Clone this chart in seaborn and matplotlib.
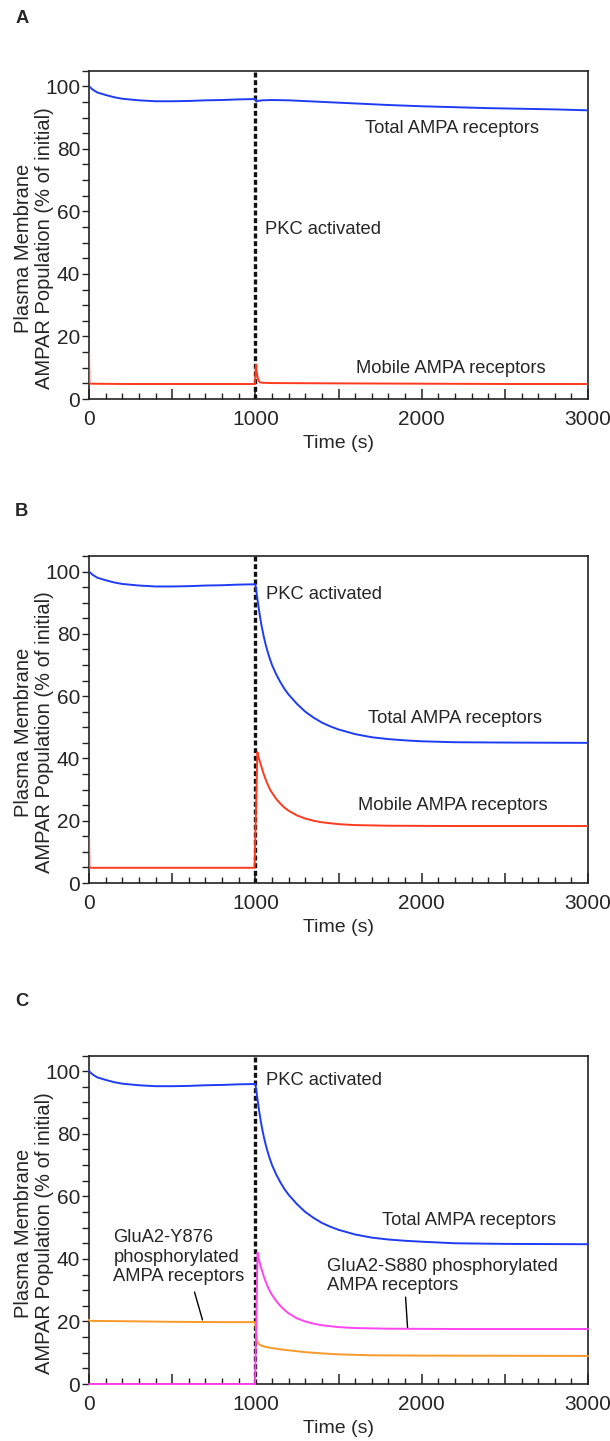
import numpy as np
import pandas as pd
import matplotlib
matplotlib.use("Agg")
import matplotlib.pyplot as plt
import seaborn as sns
from matplotlib.ticker import MultipleLocator, FuncFormatter

# ---------------- data ----------------
# Panel A
a_total_t = [0, 20, 50, 100, 150, 200, 300, 400, 500, 600, 700, 800, 900, 1000,
             1005, 1015, 1040, 1100, 1200, 1400, 1600, 1800, 2000, 2200, 2400, 2600, 2800, 3000]
a_total_v = [100, 99.0, 98.0, 97.2, 96.5, 96.0, 95.5, 95.2, 95.2, 95.3, 95.5, 95.6, 95.8, 95.9,
             95.1, 95.3, 95.5, 95.6, 95.5, 95.0, 94.5, 94.0, 93.6, 93.3, 93.0, 92.8, 92.6, 92.3]
a_mobile_t = [0, 2, 200, 500, 800, 998, 1003, 1008, 1014, 1020, 1028, 1040, 1100, 1500, 2000, 2500, 3000]
a_mobile_v = [15, 4.9, 4.8, 4.8, 4.8, 4.8, 11.0, 8.6, 6.8, 5.8, 5.3, 5.2, 5.1, 5.0, 4.9, 4.8, 4.8]

# Panel B
b_total_t = [0, 20, 50, 100, 150, 200, 300, 400, 500, 600, 700, 800, 900, 1000,
             1005, 1010, 1018, 1025, 1035, 1050, 1062, 1075, 1090, 1100, 1125, 1150, 1175,
             1200, 1250, 1300, 1350, 1400, 1450, 1500, 1600, 1700, 1800, 1900, 2000,
             2200, 2500, 3000]
b_total_v = [100, 99.0, 98.0, 97.2, 96.5, 96.0, 95.5, 95.2, 95.2, 95.3, 95.5, 95.6, 95.8, 95.9,
             94.0, 92.0, 89.0, 86.5, 83.2, 79.2, 76.5, 74.0, 71.5, 70.0, 67.0, 64.5, 62.3,
             60.5, 57.5, 55.0, 53.1, 51.5, 50.3, 49.3, 47.8, 46.8, 46.2, 45.8, 45.5,
             45.2, 45.1, 45.0]
b_mobile_t = [0, 2, 500, 995, 1012, 1020, 1030, 1040, 1050, 1062, 1075, 1090, 1100, 1125,
              1150, 1175, 1200, 1250, 1300, 1350, 1400, 1500, 1600, 1800, 2200, 3000]
b_mobile_v = [15, 4.9, 4.9, 4.9, 42, 40.2, 38.5, 36.7, 35, 33.2, 31.5, 29.8, 29, 27.0,
              25.5, 24.2, 23.2, 21.7, 20.7, 20.0, 19.5, 18.9, 18.6, 18.4, 18.3, 18.3]

# Panel C
c_total_t = b_total_t
c_total_v = [100, 99.0, 98.0, 97.2, 96.5, 96.0, 95.5, 95.2, 95.2, 95.3, 95.5, 95.6, 95.8, 95.9,
             94.0, 92.0, 89.0, 86.5, 83.2, 79.2, 76.5, 74.0, 71.5, 70.0, 67.0, 64.5, 62.3,
             60.5, 57.5, 55.0, 53.1, 51.5, 50.3, 49.3, 47.8, 46.8, 46.2, 45.8, 45.5,
             45.0, 44.8, 44.7]
c_s880_t = [0, 998, 1013, 1020, 1030, 1040, 1050, 1062, 1075, 1090, 1100, 1125, 1150, 1175,
            1200, 1250, 1300, 1350, 1400, 1500, 1600, 1800, 2200, 3000]
c_s880_v = [0, 0, 42, 40.0, 38, 36.2, 34.5, 32.7, 31, 29.4, 28.5, 26.6, 25, 23.7,
            22.6, 21, 20, 19.3, 18.8, 18.2, 17.9, 17.7, 17.6, 17.6]
c_y876_t = [0, 2, 200, 500, 800, 998, 1003, 1008, 1012, 1018, 1025, 1040, 1060, 1100, 1150,
            1200, 1300, 1400, 1500, 1700, 2000, 3000]
c_y876_v = [20.6, 20.2, 20.1, 19.9, 19.8, 19.8, 17.5, 14.8, 13.6, 13.0, 12.6, 12.2, 11.9, 11.5, 11.1,
            10.8, 10.2, 9.8, 9.5, 9.2, 9.1, 9.0]

pkc_time = 1000

BLUE = "#1f3cf5"
RED = "#ff3a1e"
MAGENTA = "#ff44f0"
ORANGE = "#f79a2a"

sns.set_style("ticks")
plt.rcParams["font.family"] = ["Liberation Sans", "DejaVu Sans"]

fig = plt.figure(figsize=(6.10, 14.41), dpi=100)

L, R = 0.146, 0.964
boxes = {
    "A": (0.7231, 0.951),
    "B": (0.3872, 0.6142),
    "C": (0.0395, 0.2675),
}
FS = 13.2      # annotations
TFS = 15       # tick labels
YFS = 14.5     # y label
XFS = 14       # x label


def style_axes(ax):
    ax.set_xlim(0, 3000)
    ax.set_ylim(0, 105)
    ax.xaxis.set_major_locator(MultipleLocator(500))
    ax.xaxis.set_minor_locator(MultipleLocator(100))
    ax.xaxis.set_major_formatter(FuncFormatter(lambda v, p: f"{int(v)}" if v % 1000 == 0 else ""))
    ax.yaxis.set_major_locator(MultipleLocator(20))
    ax.yaxis.set_minor_locator(MultipleLocator(5))
    ax.tick_params(axis="x", which="major", direction="in", length=7, width=1.1,
                   labelsize=TFS, pad=8, color="#222222")
    ax.tick_params(axis="x", which="minor", direction="in", length=4, width=1.0, color="#222222")
    ax.tick_params(axis="y", which="both", direction="out", length=5, width=1.0,
                   labelsize=TFS, pad=1.5, color="#222222")
    for s in ax.spines.values():
        s.set_visible(True)
        s.set_linewidth(1.2)
        s.set_color("#222222")
    ax.set_xlabel("Time (s)", fontsize=XFS, labelpad=4)
    ax.set_ylabel("Plasma Membrane\nAMPAR Population (% of initial)", fontsize=YFS,
                  multialignment="center", linespacing=1.15)
    ax.yaxis.set_label_coords(-0.07, 0.46)
    ax.axvline(pkc_time, color="#111111", lw=2.4, ls=(0, (1.5, 0.8)), zorder=1)


def draw(ax, t, v, color):
    df = pd.DataFrame({"t": t, "v": v})
    sns.lineplot(data=df, x="t", y="v", ax=ax, color=color, lw=1.4,
                 estimator=None, sort=False, zorder=3)


# Panel A
axA = fig.add_axes([L, boxes["A"][0], R - L, boxes["A"][1] - boxes["A"][0]])
draw(axA, a_total_t, a_total_v, BLUE)
draw(axA, a_mobile_t, a_mobile_v, RED)
style_axes(axA)
axA.text(1660, 86.5, "Total AMPA receptors", fontsize=FS, va="center")
axA.text(1057, 54.3, "PKC activated", fontsize=FS, va="center")
axA.text(1602, 9.6, "Mobile AMPA receptors", fontsize=FS, va="center")

# Panel B
axB = fig.add_axes([L, boxes["B"][0], R - L, boxes["B"][1] - boxes["B"][0]])
draw(axB, b_total_t, b_total_v, BLUE)
draw(axB, b_mobile_t, b_mobile_v, RED)
style_axes(axB)
axB.text(1065, 92.7, "PKC activated", fontsize=FS, va="center")
axB.text(1677, 52.8, "Total AMPA receptors", fontsize=FS, va="center")
axB.text(1617, 24.8, "Mobile AMPA receptors", fontsize=FS, va="center")

# Panel C
axC = fig.add_axes([L, boxes["C"][0], R - L, boxes["C"][1] - boxes["C"][0]])
draw(axC, c_total_t, c_total_v, BLUE)
draw(axC, c_y876_t, c_y876_v, ORANGE)
draw(axC, c_s880_t, c_s880_v, MAGENTA)
for ln in axC.get_lines():
    ln.set_clip_on(False)
style_axes(axC)
axC.text(1061, 97, "PKC activated", fontsize=FS, va="center")
axC.text(1762, 52.4, "Total AMPA receptors", fontsize=FS, va="center")
axC.text(146, 40.5, "GluA2-Y876\nphosphorylated\nAMPA receptors", fontsize=FS,
         va="center", linespacing=1.2)
axC.text(1432, 34.5, "GluA2-S880 phosphorylated\nAMPA receptors", fontsize=FS,
         va="center", linespacing=1.2)
axC.plot([634, 682], [29.4, 20.5], color="black", lw=1.0)
axC.plot([1903, 1915], [27.8, 17.9], color="black", lw=1.0)

# panel letters
for lab, y in [("A", 0.9875), ("B", 0.645), ("C", 0.3047)]:
    fig.text(0.025, y, lab, fontsize=FS, fontweight="bold", va="center", ha="left")

fig.savefig("out.png", dpi=100)
